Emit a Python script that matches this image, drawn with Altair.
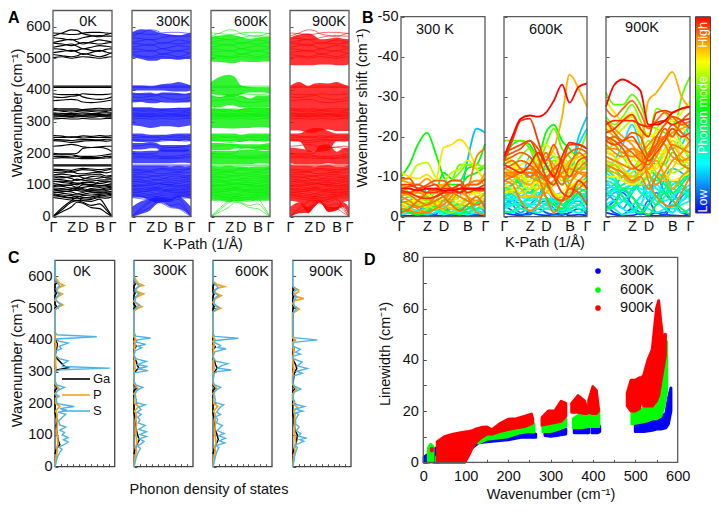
import altair as alt
import pandas as pd

FONT = "Liberation Sans"
W, H = 703, 496
OFF = 8

# ---------- k-path ----------
K9 = [0, .155, .31, .41, .505, .65, .79, .9, 1]
K11 = [0, .1, .2, .31, .41, .505, .6, .7, .79, .9, 1]
K_TICKS = [0, .31, .505, .79, 1]

# ---------- panel A : bands ----------
BANDS = [
 [570,580,590,588,578,572,568,575,580],[580,578,575,576,580,582,582,580,578],
 [565,562,558,560,565,570,572,570,570],[550,556,560,552,545,552,558,555,552],
 [548,545,540,545,550,548,545,548,550],[535,540,545,538,530,535,540,538,535],
 [530,528,522,525,530,525,522,528,530],[518,522,525,520,512,518,525,520,515],
 [512,508,505,508,515,510,505,510,518],[502,505,500,503,505,503,500,503,505],
 [412,412,412,412,412,412,412,412,412],[408,408,408,408,408,408,408,408,408],
 [388,385,385,386,378,372,370,372,378],[378,376,380,382,388,386,385,386,388],
 [366,368,370,368,362,360,362,365,368],[342,340,340,340,338,340,342,340,342],
 [335,333,330,332,334,332,330,332,335],[328,326,325,326,328,325,326,328,328],
 [322,320,318,320,320,322,320,320,322],[314,316,314,315,316,314,316,315,314],
 [308,310,308,308,310,308,308,310,310],[256,254,250,252,255,253,256,254,256],
 [250,250,252,250,248,250,250,250,250],[244,242,240,242,243,243,242,244,244],
 [222,224,228,225,220,218,220,222,222],[240,238,234,236,238,240,240,238,240],
 [200,198,198,200,215,218,218,215,205],[196,195,195,192,190,190,192,195,198],
 [190,190,188,190,186,186,186,190,190],[184,186,185,184,183,183,184,185,186],
 [163,163,163,163,163,163,163,163,163],[160,160,160,160,160,160,160,160,160],
 [146,144,140,145,148,146,142,146,150],[140,138,142,136,135,138,140,138,142],
 [132,134,130,128,130,132,134,128,130],[125,122,126,128,122,118,122,124,126],
 [118,116,112,118,115,112,115,116,116],[112,108,104,100,108,108,104,108,112],
 [104,100,98,92,100,102,98,100,104],[98,95,90,88,92,95,92,94,96],
 [90,88,84,82,80,88,86,90,92],[84,80,78,72,76,82,80,82,86],
 [78,74,70,68,70,75,74,76,80],[72,68,66,62,66,68,70,72,74],
 [66,62,58,56,58,62,66,64,68],[60,56,52,50,52,54,60,58,62],
 [0,22,45,50,45,35,40,22,0],[0,28,50,60,50,48,55,30,0],[0,15,30,45,42,28,25,12,0],
 [110,112,108,106,104,100,110,112,108],[94,98,100,104,102,98,96,98,100],
 [86,84,88,92,88,84,84,86,88],[76,78,82,86,84,78,76,78,78],
 [128,126,120,114,118,126,128,122,120],[150,148,146,150,152,150,148,150,152],
 [70,64,60,64,60,58,64,68,70],[338,336,336,336,336,336,336,336,338],
 [325,323,322,323,324,323,322,323,325],[318,318,316,318,318,318,318,318,318],
]

BLOBS_300 = [
 ([505,498,492,492,498,498,495,498,498],[582,592,590,585,578,575,572,575,580]),
 ([398,398,398,398,398,396,395,395,398],[414,414,412,414,418,420,425,420,414]),
 ([360,362,358,358,362,362,360,360,362],[392,390,392,388,392,392,390,388,392]),
 ([288,285,280,282,285,285,282,285,288],[345,345,345,342,342,342,344,344,345]),
 ([238,236,236,236,240,240,238,240,238],[262,262,258,258,258,260,262,262,262]),
 ([212,212,216,216,205,205,205,205,210],[232,232,235,232,226,226,226,226,230]),
 ([168,168,168,168,168,168,170,170,168],[208,206,208,208,212,212,212,212,208]),
 ([60,60,50,45,45,48,62,60,55],[160,160,160,160,160,158,160,158,160]),
 ([0,8,20,38,45,30,25,15,0],[30,48,55,60,60,55,65,50,30]),
]
BLOBS_600 = [
 ([490,488,485,485,490,488,488,490,490],[568,572,574,572,568,562,565,568,568]),
 ([388,385,380,378,385,392,392,392,388],[425,442,448,440,415,410,408,408,408]),
 ([345,345,352,350,345,345,345,345,345],[385,378,385,378,382,372,382,382,385]),
 ([280,280,278,278,280,280,282,282,280],[342,340,340,338,340,345,345,345,342]),
 ([238,238,238,238,235,240,238,238,238],[262,262,262,262,258,262,262,262,262]),
 ([210,210,210,215,215,215,210,210,210],[232,232,230,230,228,228,228,230,232]),
 ([165,165,165,165,165,165,168,168,165],[208,208,208,208,210,212,210,208,208]),
 ([50,50,45,48,50,50,50,50,50],[160,158,160,158,158,156,158,158,160]),
]
BLOBS_900 = [
 ([478,478,478,478,480,480,478,478,480],[565,575,578,572,560,562,565,562,560]),
 ([272,272,265,265,270,275,270,270,270],[412,425,412,420,422,420,425,418,412]),
 ([238,238,205,205,205,208,238,238,238],[262,262,275,280,280,270,262,262,262]),
 ([168,165,165,165,165,168,165,165,165],[218,215,210,205,225,228,205,215,218]),
 ([50,45,10,30,45,15,20,45,50],[162,160,160,158,160,162,158,158,162]),
 ([0,10,12,30,45,15,20,30,0],[30,45,30,40,50,30,30,45,30]),
]

# ---------- panel B : shift curves (mode rank, values at K11) ----------
SHIFT_300 = [
 (.02,[.3,.2,.3,.2,.3,.2,.3,.2,.3,.2,.3]),(.06,[1,2,2.5,1,.5,3,1,2,1,.5,1.5]),
 (.12,[2,1,.5,2,3,1,.5,1,2,3,1]),(.16,[2,2.5,3,7,3,1,4,5,14,22,21]),
 (.22,[1,1.5,1,.5,1,1.5,1,1.5,1,2,2]),(.26,[.5,1,1.5,2,1.5,.5,1,1,.5,1,.5]),
 (.3,[3,2,1.5,1,2,2.5,2,1,2,2,3]),(.36,[2,1.2,.6,.8,2,3,2,.8,1,3,4]),
 (.44,[4,3,2.5,2,3,4,3,2,3,4,3]),(.55,[3.5,4,5,5,6,11,9.5,9,12,13,18.2]),
 (.55,[10,13,18,21,16,10,8,8,10,11,12.5]),(.58,[5,6,6,7,7,8,9,13,13,12,13]),
 (.6,[8,6,5,4,5,7,9,11,13,13,12]),(.65,[6,5,4,4.5,6,5,4,5,6,6,7]),
 (.68,[9,10,13,13.5,10,9,11,12,14,12,9]),(.72,[3,3.5,4,3,2,3,5,6,7,5,4]),
 (.8,[11,10,9.5,10.5,9,17.2,18,19.3,17.5,12,9]),(.84,[8,7,6,6,7,8,7,6,8,9,8]),
 (.86,[9,8.5,8,9.5,8,8,7,7,8,8,11]),(.88,[4,3,2,1,2,4,6,7,8,9,9]),
 (.9,[5,4,2.5,3,5,6,6,6,7,15,17]),(.9,[2,1.5,1,1,2,3,5,8,5,1,.5]),
 (.92,[6,5.5,4,3,4,5,6,5,4,3,4]),(.93,[1,2,4,6,7,5,3,1.5,3,5,2]),
 (.95,[9.5,9.5,7,8,9,9,7,6,8,8,9.5]),(.96,[7,7.5,8,7,6.5,7.5,9,9,7,7,7]),
 (.97,[6,6,7,7.5,8,6,6,7,7,6.5,6.5]),(.98,[8,8,7,6,6,7,7,8,6,7,8]),
 (.99,[6.5,6,5,4.5,5,6,7,6,7,7,7]),(1,[7,7,6.5,7,7,6.5,6.5,7,7,7,7]),
 # denser low-frequency fill
 (.4,[1.5,2.5,3.5,3,2,1,2,3,2.5,1.5,1]),(.47,[3,2,1,1.5,3,4,3.5,2,1,2,3]),
 (.5,[4,5,4,2.5,3.5,5,4,3,5,6,5]),(.53,[2,1,.5,1,2.5,2,1,.5,2,3.5,4.5]),
 (.62,[1,2,3,3.5,3,1.5,1,2.5,4,5,6]),(.7,[5,4,3.5,2.5,4,6,5,4,3,4,6]),
 (.75,[7,6,5,3,3,5,6,5,6,7,7]),(.78,[2,3,5,5.5,4,2,3,4,5,6,5]),
 (.82,[3,2,1,2,4,3,2,3,4,3,2]),(.87,[5,6,6,5,3,2,4,6,5,4,6]),
]
SHIFT_600 = [
 (.02,[1,.5,.3,1,.5,.3,.5,1,.3,.5,.3]),(.05,[3,1.5,.5,.5,2,1,.5,.4,1,2,.5]),
 (.08,[2,4,3,1,3,4,2,1,3,4,1]),(.12,[5,3,1,3,5,8,5,1,3,6,4]),
 (.15,[3,5,8,11,9,7,4,2,5,9,7]),(.18,[3,4,6,8,5,8,12,14,12,20,25]),
 (.2,[4,5,8,15,10,13,15,14,11,18,22]),(.24,[6,5,6,7,5,4,5,3,2,3,4]),
 (.28,[5,6,5,4,5,6,5,4,5,5,5]),(.3,[4,4.5,4,3,4,4.5,4,5,4,4,4.5]),
 (.32,[7,6,4,3,3,2,3,2,2,3,3]),(.34,[2.5,3,3,2.5,2,3,4,3,3,2,2]),
 (.38,[1.5,1,2,1.5,1,2,1.5,1,1.5,1,2]),(.42,[6,7,7,6,7,9,6,4,5,7,6]),
 (.46,[6,8,10,12,9,7,9,11,8,6,5]),(.5,[9,10,8,6,9,12,10,8,10,12,12]),
 (.55,[13,18,19,18,15,21,23,19,17,14,13]),(.58,[19,19,19,17,13,18,22,17,15,12,13]),
 (.6,[10,12,15,17,14,12,14,13,13,16,21]),(.62,[8,9,10,9,11,14,12,9,11,13,15]),
 (.66,[12,11,9,7,8,11,13,15,13,11,10]),(.7,[8,7,6,7,9,7,6,5,7,9,8]),
 (.74,[14,13,11,9,11,14,12,10,13,15,14]),(.78,[11,12,13,14,12,10,11,13,16,14,12]),
 (.82,[7,6,5,5,7,9,6,4,6,8,7]),(.85,[10,11,12,12,13,14,17,25,35.5,32,27.5]),
 (.86,[12,11,9,8,11,15,13,10,9,11,13]),(.88,[10,10.5,11,10,9,8,9,11,12,11,10]),
 (.9,[9,8,4,1.5,3,8,12,10,7,9,11]),(.91,[11,10,11,12,10,5,1,4,8,12,14]),
 (.92,[9,10,11,11,10,9,5,4,5,7,9]),(.93,[13,14,12,10,12,16,11,8,13,16,14]),
 (.95,[14,15,16,15,12,9,5,4,7,6,3]),(.96,[15,16,17,19,17,14,18,13,10,14,15]),
 (.97,[16,17,18,19,15,10,8,13,18,18,17]),(.98,[14,19,24,24.5,19,13,10,6,5,9,7]),
 (.99,[13,12,11,13,16,13,10,15,18.5,18,17]),(1,[15,20,24.5,25.3,25,26,29,33,28.5,32.5,33.3]),
 # denser fill
 (.26,[2,3,5,6,4,3,2,4,6,5,3]),(.33,[5,4,2,1.5,2,3.5,5,6,4,3,2]),
 (.36,[3.5,3,3.5,4.5,6,5,3,1.5,3,5,6]),(.4,[6.5,5.5,5,5,4,3,3.5,4,5,5.5,5.5]),
 (.44,[1,1.5,3,5,7,8,6,3,2,3,4]),(.48,[5,6,8,9,11,8,5,3,5,8,10]),
 (.52,[7,8,9,10,8,5,3,2,4,6,7]),(.64,[15,13,11,11,13,16,15,13,11,13,15]),
 (.72,[16,14,12,12,15,18,16,12,12,14,16]),(.76,[6,6.5,7,8,8.5,7,5,6,8,8,7]),
 (.8,[13,12,10,8,7,9,12,14,11,9,9]),(.84,[10,9,7,5,5,6,8,11,14,15,16]),
 (.89,[11,11,11,11,11,10,10,10,10,11,11]),(.94,[12,13,14,13,11,10,12,14,16,17,16]),
]
SHIFT_900 = [
 (.02,[1,.5,.2,.3,.8,.4,.2,.5,.3,.2,.5]),(.04,[3,1,.5,2,1,.5,1,.3,3,1,.5]),
 (.07,[2,4,6,3,1,4,1,1,4,1,2]),(.1,[5,7,5,2,.5,3,6,3,1,5,7]),
 (.13,[6,4,2,6,9,4,10,6,4,7,5]),(.16,[4,6,6.5,5,3,8,5,9,6,4,6]),
 (.2,[8,7,4,7,10,15,13,16,17,18,24]),(.22,[12,14,18,23,18,15,19,18,17,20,23]),
 (.26,[9,7,8,10,6,5,8,6,9,7,8]),(.3,[7,5,4,3,5,7,5,4,5,7,4]),
 (.33,[10,9,7,8,9,10,7,6,8,9,10]),(.37,[3,2,.5,1.5,3,2,1,2,3,1,2]),
 (.42,[5,7,8,9,6,5,3,5,7,6,5]),(.47,[12,10,7,7,8,10,9,11,7,9,12]),
 (.52,[2,3,7,5,2,.5,3,6,4,2,.5]),(.56,[11,13,11,9,12,15,14,13,16,14,11]),
 (.58,[31,28,28,30.5,28,23,22,21,20,30,35]),(.6,[25,23,25,28,24,20,27,26,24,23,22]),
 (.62,[16,18,15,12,15,19,18,20,22,18,14]),(.64,[14,12,9,11,14,17,15,13,11,12,13]),
 (.68,[18,20,22,24,20,17,22,24,25,21,18]),(.7,[13,14,15,13,11,13,16,15,14,13,15]),
 (.74,[23,21,24,26,22,20,21,23,24,26,29]),(.76,[17,15,13,14,18,21,18,16,20,18,16]),
 (.8,[29,26,24,25,21,14,12,16,19,15,13]),(.82,[16,15,12,9,11,14,11,9,12,16,18]),
 (.85,[22,20,19,19,18,29,31,34,36.2,30,27]),(.86,[12,11,10,8.5,10,12,14,10,7,10,12]),
 (.88,[20,18,16,17,14,11,8,11,14,16,19]),(.9,[18,16,15,17,16,9,5,3,2.5,6,10]),
 (.91,[13,12,11,9,10,7,10,14,18,17,16]),(.93,[27,25,27,29,26,22,24,26,25,23,24]),
 (.94,[19,20,18,16,14,13,17,20,23,21,19]),(.95,[24,21,19,21,20,15,18,22,20,24,26]),
 (.96,[20,19,17,13,11.5,15,20,23,25,24,22]),(.97,[19,18,19,20,17,14,16,19,22,20,21]),
 (.98,[21,22,24,25.5,22,20,26,26.5,26,27,27.5]),(.99,[23,24,24,24,23,22.5,23.5,24,23,24,24.5]),
 (1,[27.5,33,34.3,33.2,31.5,23,23,24,26,27,27.5]),
 # denser fill
 (.18,[7,8,10,12,9,6,8,10,12,11,9]),(.24,[3,4,2,1,3,6,4,2,1,4,6]),
 (.28,[6,6.5,7,8,7,6,5,6,7,6,6]),(.35,[11,9,5,3,5,8,11,9,5,4,7]),
 (.39,[1.5,2.5,4,6,8,7,5,3,2,3,4]),(.45,[9,8,5,2,1,3,5,7,9,8,6]),
 (.5,[13,12,10,10,11,12,10,8,6,8,11]),(.66,[15,14,12,10,8,10,13,17,19,17,15]),
 (.72,[20,19,17,15,13,14,17,19,21,22,20]),(.78,[10,10,9,8,9,11,13,11,9,10,11]),
 (.83,[14,13,11,10,12,16,19,20,18,15,14]),(.87,[24,22,20,18,15,12,15,19,21,22,23]),
 (.89,[17,17,16,15,16,18,20,18,15,14,15]),(.92,[15,14,13,12,13,16,18,20,17,13,12]),
]
COLOR_DOMAIN = [0, .25, .55, .77, .88, 1]
COLOR_RANGE = ["#1000f0", "#00ffff", "#00ff00", "#ffff00", "#ff9000", "#ff0000"]

# ---------- panel C : density of states (wavenumber, dos) ----------
S_0 = [(0,0),(15,.2),(30,.4),(45,.8),(55,1.2),(62,.6),(70,1.6),(78,2.2),(85,1.4),(92,2.2),(100,1.2),(108,1.6),(115,.8),(125,1.8),(132,.8),(145,.6),(155,1.2),(165,1.8),(172,.5),(178,2.0),(183,.8),(190,3.2),(196,1.2),(200,.3),(215,.2),(222,.7),(230,.1),(240,.4),(250,1.6),(258,.3),(270,0),(300,0),(306,1),(311,9.2),(316,1.2),(325,1.4),(334,2.2),(340,.8),(350,.1),(365,.1),(372,1.1),(380,.7),(390,2.2),(396,.6),(403,.2),(410,7),(416,.3),(425,0),(495,0),(505,.5),(512,1.0),(520,.4),(530,.05),(538,.4),(545,.8),(552,.3),(562,.2),(570,.8),(582,.3),(590,0),(650,0)]
P_0 = [(0,0),(30,.2),(50,.4),(60,.3),(75,.5),(90,.4),(110,.3),(135,.4),(150,.3),(165,.4),(175,.1),(190,.8),(200,.1),(215,.1),(222,.4),(230,0),(245,.7),(255,.3),(262,0),(305,0),(310,.2),(320,.1),(340,.1),(350,0),(375,.1),(385,.2),(395,0),(495,0),(505,.7),(510,1.3),(516,.7),(525,0),(535,.4),(545,1.2),(550,.5),(558,.3),(565,.6),(572,1.5),(578,.8),(590,.3),(600,0)]
G_0 = [(40,0),(55,.2),(70,.8),(85,.5),(100,.4),(115,.3),(130,.2),(145,.4),(155,.2),(170,0),(240,0),(250,.4),(258,0),(300,0),(305,.3),(312,2.2),(318,1.5),(328,1),(340,.4),(350,0),(375,.3),(388,.4),(400,0),(500,0),(505,.3),(512,0),(540,0),(548,.3),(555,0),(575,0),(580,.4),(590,0)]

S_300 = [(0,0),(15,.2),(30,.4),(45,.7),(58,1.1),(66,.5),(72,1.2),(80,1.7),(88,.9),(95,2.1),(102,1),(110,2.1),(118,.8),(130,1.9),(138,.7),(148,1),(156,.6),(165,1.2),(172,.5),(180,1.2),(188,.8),(195,1.9),(202,.4),(214,.4),(220,.1),(240,.4),(250,1.5),(258,.3),(270,0),(296,0),(303,2.4),(309,.6),(316,2.3),(322,.6),(332,2.1),(340,.4),(350,0),(366,.2),(375,1.3),(380,.6),(386,2),(393,.3),(400,.6),(406,2.8),(412,.3),(425,0),(495,0),(503,.5),(510,.9),(520,.2),(535,.2),(545,.9),(552,.2),(560,.2),(570,.9),(580,.3),(590,0),(650,0)]
P_300 = [(0,0),(30,.2),(50,.4),(60,.3),(75,.5),(90,.4),(110,.3),(135,.4),(150,.3),(165,.4),(175,.1),(190,.8),(200,.1),(215,.1),(222,.3),(230,0),(245,.7),(255,.3),(262,0),(300,0),(310,.2),(320,.1),(340,.1),(350,0),(375,.1),(385,.2),(395,0),(402,.3),(410,0),(492,0),(500,.7),(505,1.3),(512,.6),(522,0),(535,.4),(545,1.6),(552,.5),(560,.3),(567,.7),(572,1.5),(578,.7),(590,.3),(600,0)]
G_300 = [(40,0),(55,.2),(70,.5),(85,.9),(100,.6),(115,.4),(130,.3),(145,.3),(170,0),(240,0),(248,.5),(258,0),(295,0),(302,.3),(312,.8),(322,.5),(332,.4),(340,0),(370,0),(380,.4),(390,0),(500,0),(506,.3),(512,0),(540,0),(548,.2),(555,0),(570,0),(578,.3),(590,0)]

S_600 = [(0,0),(15,.2),(30,.4),(45,.6),(60,1),(67,.5),(75,2),(82,1.1),(90,2.1),(98,1),(105,1.9),(114,.7),(130,1.6),(138,.6),(150,.8),(157,.4),(165,1.3),(172,.6),(185,1.1),(195,1.8),(203,.3),(214,.4),(222,.1),(240,.3),(250,1.3),(258,.3),(268,0),(292,0),(300,.6),(305,3.1),(311,.8),(318,1.4),(325,2.5),(333,.5),(345,0),(362,.3),(372,2.2),(376,.8),(382,1.3),(392,.2),(398,.4),(405,4.3),(411,.3),(420,0),(488,0),(497,.5),(504,.9),(512,.2),(530,.2),(540,.9),(548,.2),(556,.2),(565,.9),(572,.5),(582,0),(650,0)]
P_600 = [(0,0),(30,.2),(50,.4),(60,.3),(75,.5),(90,.4),(110,.3),(135,.4),(150,.3),(165,.4),(175,.1),(190,.8),(200,.1),(215,.1),(222,.3),(230,0),(245,.7),(255,.3),(262,0),(300,0),(310,.2),(320,.1),(340,.1),(350,0),(375,.1),(385,.2),(395,0),(403,.3),(410,0),(488,0),(495,.7),(500,1.3),(507,.5),(518,0),(530,.4),(540,1.4),(548,.4),(556,.3),(563,.8),(568,1.9),(575,.6),(585,0)]
G_600 = [(40,0),(55,.2),(70,.5),(85,.9),(100,.7),(115,.4),(130,.3),(145,.3),(170,0),(240,0),(248,.4),(258,0),(295,.1),(302,.4),(312,.7),(322,.4),(332,.3),(340,0),(370,0),(378,.4),(388,0),(498,0),(505,.2),(512,0),(538,0),(545,.2),(552,0),(570,0),(576,.2),(585,0)]

S_900 = [(0,0),(15,.2),(30,.3),(45,.5),(60,.8),(68,.4),(80,1.9),(86,1.2),(90,2.4),(96,1),(105,1.4),(113,.6),(125,1.1),(135,.5),(150,.5),(165,1),(170,.4),(175,1.7),(182,.5),(190,2),(198,.3),(208,.3),(214,.05),(235,.2),(245,1.4),(254,.3),(265,0),(285,0),(295,1.6),(301,.7),(310,2.5),(318,.8),(330,1.6),(340,.2),(348,0),(355,1.3),(361,.5),(370,1.3),(380,0),(392,.2),(400,4.2),(407,.2),(415,0),(485,0),(493,.4),(500,.8),(508,.2),(525,.2),(535,.7),(542,.2),(552,.2),(558,.7),(570,0),(650,0)]
P_900 = [(0,0),(30,.2),(50,.4),(60,.3),(75,.5),(90,.4),(110,.3),(135,.4),(150,.3),(165,.4),(175,.2),(188,.8),(198,.1),(205,.3),(212,0),(230,0),(243,.7),(252,.3),(260,0),(290,0),(305,.2),(320,.1),(340,0),(360,.2),(375,.1),(392,0),(400,.4),(406,0),(485,0),(492,.7),(497,1.1),(504,.4),(515,0),(525,.4),(530,1.9),(537,.5),(545,.4),(552,1),(558,1),(565,.2),(572,0)]
G_900 = [(40,0),(55,.2),(70,.5),(85,.7),(100,.8),(115,.4),(130,.3),(145,.2),(170,0),(238,0),(246,.4),(256,0),(285,.2),(296,.3),(310,.7),(322,.5),(332,.2),(340,0),(360,.1),(372,.2),(385,0),(495,0),(502,.2),(510,0),(530,0),(537,.2),(544,0),(552,0),(558,.2),(565,0)]

DOS_SETS = [(G_0,P_0,S_0),(G_300,P_300,S_300),(G_600,P_600,S_600),(G_900,P_900,S_900)]
DOS_COLORS = ["#000000", "#f2a41e", "#4db4e8"]

# ---------- panel D : linewidth envelopes (wavenumber, low, high) ----------
LW_300 = [
 [(2,0,2),(8,0,2.8),(13,0,1.8)],
 [(24,0,4.5),(29,0,5.5),(33,0,3)],
 [(118,6,7),(130,7.6,8.6),(150,8,9.2),(200,8.8,10),(230,9.8,11),(265,9.8,11)],
 [(287,10.5,12),(300,10.2,12),(320,10.6,12.4),(336,11,13)],
 [(356,11.5,13),(375,11.5,13),(390,11.5,13.5)],
 [(398,11.5,14),(410,11.5,14.5),(416,12,14)],
 [(500,12,15.5),(520,12,16.5),(540,12.5,17),(550,13,18),(560,13,18),(572,13.5,19),(578,15,25),(584,20,29)],
]
LW_600 = [
 [(12,0,5.5),(17,0,7),(23,0,6)],
 [(31,0,2),(37,0,1.5)],
 [(130,7.5,9),(150,9,10.5),(200,10,12),(228,11.5,13),(250,12,14),(261,11.8,15)],
 [(282,12,15),(300,12,14.5),(320,13,16),(336,14,17)],
 [(354,13.5,17),(372,13.5,19),(390,14,18)],
 [(392,14,19),(405,14,20),(414,14,21)],
 [(492,15,19),(510,15.5,20),(525,16,22),(540,17,26),(550,17,40),(560,18,40),(568,22,44),(574,28,47)],
]
LW_900 = [
 [(19,4.5,5.5),(21,4.5,5.5)],
 [(33,0,8),(50,0,10),(70,0,11),(98,0,11.8),(108,3,12),(115,5.5,12.3),(125,8,13),(140,10,13.7),(150,11,13.8),(162,11,12.7),(180,12,15),(200,12.8,16.8),(220,13.5,17),(240,14,18),(255,15,18.8),(258,15.5,17)],
 [(280,14.5,17.5),(295,15,20),(310,15.5,20),(325,16,23.8),(336,18,23)],
 [(350,19.5,23),(365,19.5,26),(380,19,24),(386,19,21)],
 [(390,19.5,24),(400,19,29.5),(408,19,28),(413,20,21)],
 [(481,22,27),(490,20,32),(500,20,32),(510,21,33),(515,26,33),(520,22,34),(530,22,40),(540,22,44),(550,24,60),(555,26,63),(560,31,55),(565,36,48),(571,42,50)],
]
LW_COLORS = ["#0000ff", "#00ff00", "#ff0000"]


def val(v):
    return alt.value(v)


def text(s, x, y, size=14.5, angle=0, align="center", weight="normal", color="#111111"):
    return alt.Chart(alt.InlineData(values=[{"a": 1}])).mark_text(
        font=FONT, fontSize=size, angle=angle, align=align, baseline="middle",
        fontWeight=weight, color=color
    ).encode(x=val(x - OFF), y=val(y - OFF), text=val(s))


def scales(x0, x1, yb, yt, xdom, ydom):
    return (alt.Scale(domain=xdom, range=[x0 - OFF, x1 - OFF], nice=False, zero=False),
            alt.Scale(domain=ydom, range=[yb - OFF, yt - OFF], nice=False, zero=False))


def frame(x0, x1, yb, yt, xdom, ydom, xaxis=None, yaxis=None, stroke="#5a5a5a"):
    sx, sy = scales(x0, x1, yb, yt, xdom, ydom)
    d = pd.DataFrame({"a": [xdom[0]], "b": [xdom[1]], "c": [ydom[0]], "e": [ydom[1]]})
    return alt.Chart(d).mark_rect(filled=False, stroke=stroke, strokeWidth=1.3).encode(
        x=alt.X("a:Q", scale=sx, axis=xaxis), x2="b:Q",
        y=alt.Y("c:Q", scale=sy, axis=yaxis), y2="e:Q")


def ticks_layer(x0, x1, yb, yt, xdom, ydom, xv=None, yv=None, size=3):
    sx, sy = scales(x0, x1, yb, yt, xdom, ydom)
    d = pd.DataFrame({"a": [xdom[0]], "b": [xdom[1]], "c": [ydom[0]], "e": [ydom[1]]})
    xa = None if xv is None else alt.Axis(orient="top", offset=-(yb - OFF), values=xv, labels=False,
                                           domain=False, grid=False, tickSize=size, tickColor="#555555", title=None)
    ya = None if yv is None else alt.Axis(orient="right", offset=x0 - OFF - W, values=yv, labels=False,
                                           domain=False, grid=False, tickSize=size, tickColor="#555555", title=None)
    return alt.Chart(d).mark_rect(opacity=0).encode(
        x=alt.X("a:Q", scale=sx, axis=xa), x2="b:Q",
        y=alt.Y("c:Q", scale=sy, axis=ya), y2="e:Q")


def left_axis(x0, values, expr=None, pad=3):
    kw = {"labelExpr": expr} if expr else {}
    return alt.Axis(orient="left", offset=-(x0 - OFF), values=values, ticks=False, domain=False, grid=False,
                    labelFont=FONT, labelFontSize=14.5, labelColor="#111111", labelPadding=pad, title=None, **kw)


def bottom_axis(yb, values, expr=None, pad=4):
    kw = {"labelExpr": expr} if expr else {}
    return alt.Axis(orient="bottom", offset=yb - OFF - H, values=values, ticks=False, domain=False, grid=False,
                    labelFont=FONT, labelFontSize=14.5, labelColor="#111111", labelPadding=pad, labelAngle=0,
                    labelOverlap=False, labelFlush=False, title=None, **kw)


K_EXPR = "datum.value < 0.1 || datum.value > 0.9 ? 'Γ' : datum.value < 0.4 ? 'Z' : datum.value < 0.6 ? 'D' : 'B'"

# ---------- panel A ----------
A_X = [(53, 112), (132, 191), (211, 270), (290, 349)]
A_Y = (216.5, 10.5)
A_DOM = [0, 651]
A_SETS = [(None, "#000000"), (BLOBS_300, "#1a1aff"), (BLOBS_600, "#00f000"), (BLOBS_900, "#ff0000")]
A_LABELS = ["0K", "300K", "600K", "900K"]
A_LABEL_X = [88, 173, 251, 329]
K_DOM = [0, 1]
Y_TICKS = [0, 100, 200, 300, 400, 500, 600]

band_df = pd.DataFrame([{"id": i, "k": k, "f": v} for i, b in enumerate(BANDS) for k, v in zip(K9, b)])
marks = []
for n, ((x0, x1), (blobs, col)) in enumerate(zip(A_X, A_SETS)):
    sx, sy = scales(x0, x1, A_Y[0], A_Y[1], K_DOM, A_DOM)
    for lo, hi in (blobs or []):
        bd = pd.DataFrame({"k": K9, "lo": lo, "hi": hi})
        marks.append(alt.Chart(bd).mark_area(orient="vertical", interpolate="monotone", color=col, opacity=.8).encode(
            x=alt.X("k:Q", scale=sx, axis=None), y=alt.Y("lo:Q", scale=sy, axis=None), y2="hi:Q"))
    marks.append(alt.Chart(band_df).mark_line(interpolate="monotone", color=col,
                                               strokeWidth=1.15 if n == 0 else .6).encode(
        x=alt.X("k:Q", scale=sx, axis=None), y=alt.Y("f:Q", scale=sy, axis=None), detail="id:N", order="k:Q"))
    marks.append(ticks_layer(x0, x1, A_Y[0], A_Y[1], K_DOM, A_DOM, yv=Y_TICKS))
    marks.append(frame(x0, x1, A_Y[0], A_Y[1], K_DOM, A_DOM,
                       xaxis=bottom_axis(A_Y[0], K_TICKS, K_EXPR),
                       yaxis=left_axis(x0, Y_TICKS) if n == 0 else None))
    marks.append(text(A_LABELS[n], A_LABEL_X[n], 22))

# ---------- panel B ----------
B_X = [(401, 485), (504, 587), (606, 690)]
B_Y = (216.7, 16.7)
B_DOM = [0, 50]
B_SETS = [SHIFT_300, SHIFT_600, SHIFT_900]
B_LABELS = [("300 K", 435, 30), ("600K", 546, 30), ("900K", 642, 28)]
for n, ((x0, x1), curves) in enumerate(zip(B_X, B_SETS)):
    sx, sy = scales(x0, x1, B_Y[0], B_Y[1], K_DOM, B_DOM)
    ranked = sorted(curves, key=lambda c: c[0])
    cd = pd.DataFrame([{"id": f"{i:03d}", "m": m, "k": k, "s": v} for i, (m, vs) in enumerate(ranked)
                       for k, v in zip(K11, vs)])
    marks.append(alt.Chart(cd).mark_line(interpolate="monotone", strokeWidth=1.8).encode(
        x=alt.X("k:Q", scale=sx, axis=None), y=alt.Y("s:Q", scale=sy, axis=None),
        color=alt.Color("m:Q", scale=alt.Scale(domain=COLOR_DOMAIN, range=COLOR_RANGE), legend=None),
        detail="id:N", order="k:Q"))
    marks.append(ticks_layer(x0, x1, B_Y[0], B_Y[1], K_DOM, B_DOM, yv=[0, 10, 20, 30, 40, 50]))
    marks.append(frame(x0, x1, B_Y[0], B_Y[1], K_DOM, B_DOM,
                       xaxis=bottom_axis(B_Y[0], K_TICKS, K_EXPR, pad=3),
                       yaxis=left_axis(x0, [0, 10, 20, 30, 40, 50],
                                       "datum.value == 0 ? '0' : '-' + datum.value") if n == 0 else None))
    marks.append(text(*B_LABELS[n]))

# colour bar
stops = [alt.GradientStop(offset=o, color=c) for o, c in zip(COLOR_DOMAIN, COLOR_RANGE)]
marks.append(alt.Chart(alt.InlineData(values=[{"a": 1}])).mark_rect(
    fill=alt.LinearGradient(gradient="linear", stops=stops, x1=0, x2=0, y1=1, y2=0),
    stroke="#444444", strokeWidth=1
).encode(x=val(695.5 - OFF), x2=val(710.5 - OFF), y=val(16.7 - OFF), y2=val(213 - OFF)))
BAR_TEXT = "#f6fbe8"
marks.append(text("High", 703, 35, size=12.5, angle=270, color=BAR_TEXT))
marks.append(text("Phonon mode", 703, 115, size=12.5, angle=270, color=BAR_TEXT))
marks.append(text("Low", 703, 201, size=12.5, angle=270, color=BAR_TEXT))

# ---------- panel C ----------
C_X = [(55, 114.7), (134, 193), (213, 272), (292.7, 351)]
C_Y = (466.7, 260.3)
C_LABELS = [("0K", 82, 272), ("300K", 170, 271), ("600K", 252, 272), ("900K", 326, 272)]
D_DOM_X = [0, 10]
for n, ((x0, x1), sets) in enumerate(zip(C_X, DOS_SETS)):
    sx, sy = scales(x0, x1, C_Y[0], C_Y[1], D_DOM_X, A_DOM)
    marks.append(ticks_layer(x0, x1, C_Y[0], C_Y[1], D_DOM_X, A_DOM,
                             xv=[1, 2, 3, 4, 5, 6, 7, 8, 9], yv=Y_TICKS))
    marks.append(frame(x0, x1, C_Y[0], C_Y[1], D_DOM_X, A_DOM, stroke="#444444",
                       yaxis=left_axis(x0, Y_TICKS) if n == 0 else None))
    for series, col, lw in zip(sets, DOS_COLORS, [1.5, 1.8, 1.4]):
        sd = pd.DataFrame([{"i": i, "f": f, "d": d} for i, (f, d) in enumerate(series)])
        marks.append(alt.Chart(sd).mark_line(color=col, strokeWidth=lw).encode(
            x=alt.X("d:Q", scale=sx, axis=None), y=alt.Y("f:Q", scale=sy, axis=None), order="i:Q"))
    marks.append(text(*C_LABELS[n]))

for lbl, col, y in zip(["Ga", "P", "S"], DOS_COLORS, [379, 395, 411]):
    marks.append(alt.Chart(alt.InlineData(values=[{"a": 1}])).mark_rule(color=col, strokeWidth=1.6).encode(
        x=val(62 - OFF), x2=val(90 - OFF), y=val(y - OFF)))
    marks.append(text(lbl, 93, y, size=13, align="left"))

# ---------- panel D ----------
DX = (423.3, 677.7)
DY = (462.3, 257.3)
DXD, DYD = [0, 600], [0, 80]
sx, sy = scales(DX[0], DX[1], DY[0], DY[1], DXD, DYD)
for segs, col in zip([LW_300, LW_600, LW_900], LW_COLORS):
    for s in segs:
        sd = pd.DataFrame([{"w": w, "lo": l, "hi": h} for (w, l, h) in s])
        marks.append(alt.Chart(sd).mark_area(orient="vertical", color=col, stroke=col, strokeWidth=3, strokeJoin="round").encode(
            x=alt.X("w:Q", scale=sx, axis=None), y=alt.Y("lo:Q", scale=sy, axis=None), y2="hi:Q"))
marks.append(ticks_layer(DX[0], DX[1], DY[0], DY[1], DXD, DYD,
                         xv=[50 * i for i in range(1, 12)], yv=[10 * i for i in range(1, 8)]))
marks.append(frame(DX[0], DX[1], DY[0], DY[1], DXD, DYD,
                   xaxis=bottom_axis(DY[0], [0, 100, 200, 300, 400, 500, 600], pad=7),
                   yaxis=left_axis(DX[0], [0, 20, 40, 60, 80], pad=5)))
for lbl, col, y in zip(["300K", "600K", "900K"], LW_COLORS, [271, 290, 308]):
    marks.append(alt.Chart(alt.InlineData(values=[{"a": 1}])).mark_circle(color=col, size=32, opacity=1).encode(
        x=val(598 - OFF), y=val(y - OFF)))
    marks.append(text(lbl, 637, y))

# ---------- titles and panel letters ----------
WN = "Wavenumber (cm⁻¹)"
marks += [
    text("A", 8, 18, size=16, weight="bold", align="left", color="#000000"),
    text("B", 362, 18, size=16, weight="bold", align="left", color="#000000"),
    text("C", 8, 258, size=16, weight="bold", align="left", color="#000000"),
    text("D", 364, 260, size=16, weight="bold", align="left", color="#000000"),
    text(WN, 17.5, 113, angle=270),
    text("K-Path (1/Å)", 203, 245),
    text("Wavenumber shift (cm⁻¹)", 363, 108, angle=270),
    text("K-Path (1/Å)", 545, 242.5),
    text(WN, 17.5, 363, angle=270),
    text("Phonon density of states", 209, 490),
    text("Linewidth (cm⁻¹)", 386, 354, angle=270),
    text(WN, 551, 494.5),
]

chart = alt.layer(*marks).resolve_scale(x="independent", y="independent").resolve_axis(
    x="independent", y="independent"
).properties(width=W, height=H, padding=0, autosize=alt.AutoSizeParams(type="none"), background="white"
).configure_view(stroke=None)

chart.save("out.html", embed_options={"renderer": "svg", "actions": False})
